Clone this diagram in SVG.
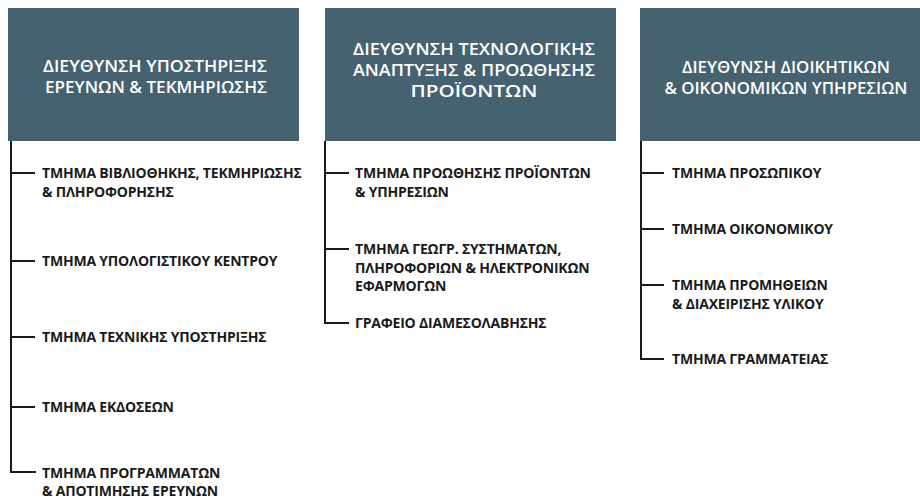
<svg xmlns="http://www.w3.org/2000/svg" width="920" height="502" viewBox="0 0 920 502">
<style>
.box{fill:#466170}
.hd{font-family:"Open Sans","Noto Sans",sans-serif;font-weight:600;font-size:16px;fill:#ffffff;text-anchor:middle}
.it{font-family:"Open Sans","Noto Sans",sans-serif;font-weight:700;font-size:14px;letter-spacing:-0.2px;fill:#1a1a1a}
.ln{fill:none;stroke:#1a1a1a;stroke-width:2}
</style>
<rect width="920" height="502" fill="#ffffff"/>
<g id="dir1">
<rect class="box" x="8" y="8" width="291" height="133"/>
<text class="hd" x="155" y="72" textLength="224" lengthAdjust="spacingAndGlyphs">ΔΙΕΥΘΥΝΣΗ ΥΠΟΣΤΗΡΙΞΗΣ</text>
<text class="hd" x="156" y="93" textLength="222" lengthAdjust="spacingAndGlyphs">ΕΡΕΥΝΩΝ &amp; ΤΕΚΜΗΡΙΩΣΗΣ</text>
</g>
<g id="dir2">
<rect class="box" x="325" y="8" width="291" height="133"/>
<text class="hd" x="474" y="55" textLength="242" lengthAdjust="spacingAndGlyphs">ΔΙΕΥΘΥΝΣΗ ΤΕΧΝΟΛΟΓΙΚΗΣ</text>
<text class="hd" x="474" y="76" textLength="242" lengthAdjust="spacingAndGlyphs">ΑΝΑΠΤΥΞΗΣ &amp; ΠΡΟΩΘΗΣΗΣ</text>
<text class="hd" x="474" y="97" textLength="127" lengthAdjust="spacingAndGlyphs">ΠΡΟΪΟΝΤΩΝ</text>
</g>
<g id="dir3">
<rect class="box" x="640" y="8" width="280" height="133"/>
<text class="hd" x="786" y="73" textLength="208" lengthAdjust="spacingAndGlyphs">ΔΙΕΥΘΥΝΣΗ ΔΙΟΙΚΗΤΙΚΩΝ</text>
<text class="hd" x="786" y="94" textLength="243" lengthAdjust="spacingAndGlyphs">&amp; ΟΙΚΟΝΟΜΙΚΩΝ ΥΠΗΡΕΣΙΩΝ</text>
</g>
<g id="connectors">
<path class="ln" d="M11 141 V472 H36 M11 173 H35 M11 261 H35 M11 337 H35 M11 407 H35"/>
<path class="ln" d="M325 141 V323 H349 M325 173 H349 M325 249 H349"/>
<path class="ln" d="M641 141 V359 H664 M641 173 H664 M641 229 H664 M641 285 H664"/>
</g>
<g id="d1-1"><text class="it" x="42" y="178">ΤΜΗΜΑ ΒΙΒΛΙΟΘΗΚΗΣ, ΤΕΚΜΗΡΙΩΣΗΣ</text><text class="it" x="42" y="196.5">&amp; ΠΛΗΡΟΦΟΡΗΣΗΣ</text></g>
<g id="d1-2"><text class="it" x="42" y="266">ΤΜΗΜΑ ΥΠΟΛΟΓΙΣΤΙΚΟΥ ΚΕΝΤΡΟΥ</text></g>
<g id="d1-3"><text class="it" x="42" y="342">ΤΜΗΜΑ ΤΕΧΝΙΚΗΣ ΥΠΟΣΤΗΡΙΞΗΣ</text></g>
<g id="d1-4"><text class="it" x="42" y="412">ΤΜΗΜΑ ΕΚΔΟΣΕΩΝ</text></g>
<g id="d1-5"><text class="it" x="42" y="478">ΤΜΗΜΑ ΠΡΟΓΡΑΜΜΑΤΩΝ</text><text class="it" x="42" y="496">&amp; ΑΠΟΤΙΜΗΣΗΣ ΕΡΕΥΝΩΝ</text></g>
<g id="d2-1"><text class="it" x="355" y="178">ΤΜΗΜΑ ΠΡΟΩΘΗΣΗΣ ΠΡΟΪΟΝΤΩΝ</text><text class="it" x="355" y="196.5">&amp; ΥΠΗΡΕΣΙΩΝ</text></g>
<g id="d2-2"><text class="it" x="355" y="254">ΤΜΗΜΑ ΓΕΩΓΡ. ΣΥΣΤΗΜΑΤΩΝ,</text><text class="it" x="355" y="272.5">ΠΛΗΡΟΦΟΡΙΩΝ &amp; ΗΛΕΚΤΡΟΝΙΚΩΝ</text><text class="it" x="355" y="291">ΕΦΑΡΜΟΓΩΝ</text></g>
<g id="d2-3"><text class="it" x="355" y="328">ΓΡΑΦΕΙΟ ΔΙΑΜΕΣΟΛΑΒΗΣΗΣ</text></g>
<g id="d3-1"><text class="it" x="672" y="178">ΤΜΗΜΑ ΠΡΟΣΩΠΙΚΟΥ</text></g>
<g id="d3-2"><text class="it" x="672" y="234">ΤΜΗΜΑ ΟΙΚΟΝΟΜΙΚΟΥ</text></g>
<g id="d3-3"><text class="it" x="672" y="290">ΤΜΗΜΑ ΠΡΟΜΗΘΕΙΩΝ</text><text class="it" x="672" y="308.5">&amp; ΔΙΑΧΕΙΡΙΣΗΣ ΥΛΙΚΟΥ</text></g>
<g id="d3-4"><text class="it" x="672" y="364">ΤΜΗΜΑ ΓΡΑΜΜΑΤΕΙΑΣ</text></g>
</svg>
